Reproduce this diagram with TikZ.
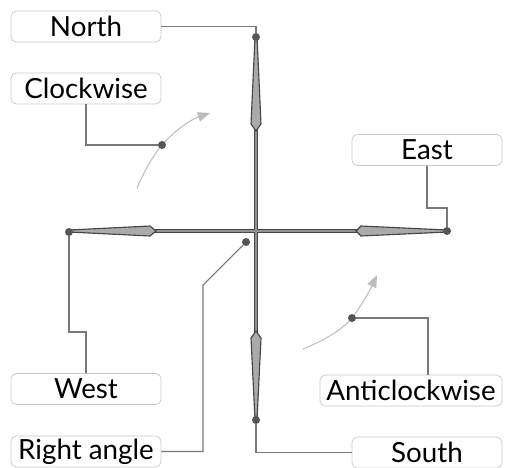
\documentclass[tikz,border=0pt]{standalone}
\usepackage{fontspec}
\setmainfont{Lato}
\usetikzlibrary{arrows.meta,positioning,calc}
\definecolor{cpdot}{RGB}{85,85,85}
\definecolor{cpline}{RGB}{120,120,120}
\definecolor{cpbox}{RGB}{200,200,200}
\definecolor{cpneedle}{RGB}{170,170,170}
\definecolor{cpedge}{RGB}{70,70,70}
\definecolor{cpturn}{RGB}{190,190,190}

\tikzset{
  lbl/.style={draw=cpbox, rounded corners=3pt, minimum width=3cm, minimum height=0.62cm,
    inner sep=0pt, font=\fontsize{15.8}{18}\selectfont},
  dot/.style={circle, fill=cpdot, inner sep=0pt, minimum size=0.16cm},
  lead/.style={cpline, line width=0.6pt},
  shaftedge/.style={cpedge, line width=2.8pt},
  shaftcore/.style={cpneedle!85!black, line width=1.1pt},
  needle/.style={fill=cpneedle, draw=cpedge, line width=0.65pt, line join=miter},
  turn/.style={cpturn, line width=0.6pt, -{Triangle[length=7pt,width=5.5pt]}}
}

\begin{document}
\begin{tikzpicture}[x=0.02cm,y=-0.02cm]
  \useasboundingbox (0,0) rectangle (509,467);

  % Labels
  \node[lbl] (north) at (86,26.5) {North};
  \node[lbl] (clockwise) at (86,88.5) {Clockwise};
  \node[lbl] (east) at (427,150) {East};
  \node[lbl] (west) at (86,389) {West};
  \node[lbl] (rangle) at (86,451.5) {Right angle};
  \node[lbl, minimum width=3.64cm] (anticlockwise) at (411,390.5) {Anticlockwise};
  \node[lbl] (south) at (427,452.5) {South};

  % Shafts
  \draw[shaftedge] (256,129) -- (256,333) (155,231) -- (357,231);
  \draw[shaftcore] (256,129) -- (256,333) (155,231) -- (357,231);

  % Needles
  \filldraw[needle] (255,37) -- (251,124) -- (256,131) -- (261,124) -- (257,37) -- cycle;
  \filldraw[needle] (255,420) -- (251,338) -- (256,331) -- (261,338) -- (257,420) -- cycle;
  \filldraw[needle] (69,230) -- (150,226) -- (156,231) -- (150,236) -- (69,232) -- cycle;
  \filldraw[needle] (447,230) -- (361,226) -- (356,231) -- (361,236) -- (447,232) -- cycle;

  % Turning arrows
  \draw[turn] (137,188) .. controls (145,170) and (152,157) .. (162,145)
    .. controls (175,130) and (192,119) .. (210,113);
  \draw[turn] (303,349) .. controls (320,342) and (340,332) .. (352,318)
    .. controls (362,305) and (370,290) .. (377,275);

  % Dots
  \node[dot] (ndot) at (256,37) {};
  \node[dot] (sdot) at (256,420) {};
  \node[dot] (wdot) at (69,232) {};
  \node[dot] (edot) at (447,231) {};
  \node[dot] (cwdot) at (162,145) {};
  \node[dot] (acwdot) at (352,318) {};
  \node[dot] (radot) at (246,242) {};

  % Leads
  \coordinate (ebend) at (447,208);
  \coordinate (wbend) at (69,332);
  \coordinate (rbend) at (203,285);
  \coordinate (acwbend) at (428,318);
  \draw[lead] (north.east) -| (ndot);
  \draw[lead] (clockwise.south) |- (cwdot);
  \draw[lead] (east.south) |- (ebend) -- (edot);
  \draw[lead] (wdot) -- (wbend) -| (west.north);
  \draw[lead] (rangle.east) -| (rbend) -- (radot);
  \draw[lead] (sdot) |- (south.west);
  \draw[lead] (acwdot) -- (acwbend) -- (acwbend |- anticlockwise.north);
\end{tikzpicture}
\end{document}
